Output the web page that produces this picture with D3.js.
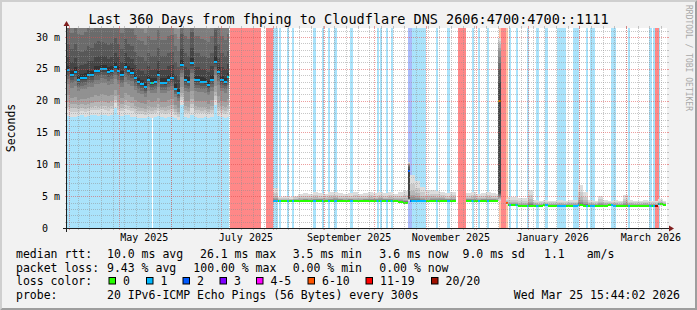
<!DOCTYPE html>
<html>
<head>
<meta charset="utf-8">
<script src="https://cdn.jsdelivr.net/npm/d3@7"></script>
<style>
html, body { margin: 0; padding: 0; background: #f2f2f2; }
svg { display: block; font-family: "DejaVu Sans Mono", monospace; }
</style>
</head>
<body>
<svg width="697" height="310"></svg>
<script>
// graph covers the last 360 days up to the probe time
var startTime = Date.UTC(2025, 2, 30, 15, 44, 2);
var endTime = Date.UTC(2026, 2, 25, 15, 44, 2);

var lossLabels = ["0", "1", "2", "3", "4-5", "6-10", "11-19", "20/20"];
var lossColors = ["#26ff00", "#00b8ff", "#0059ff", "#7e00ff", "#ff00ff", "#ff5500", "#ff0000", "#a01000"];
var lossBgColors = [null, "#aae3fb", "#abbbfb", "#d0abfb", "#fbabfb", "#ffc4a6", "#ffa0a0", "#ff8888"];

// [from day, to day, loss level]  (days since start of graph)
var lossBands = [
  [0, 50.7, 1], [51.3, 97.0, 1],
  [97.5, 116.4, 7], [119.1, 123.3, 7],
  [123.6, 126.6, 1], [127.2, 128.4, 1], [132.0, 133.2, 1], [135.0, 136.2, 1], [147.6, 149.4, 1],
  [153.0, 153.9, 1], [156.6, 157.8, 1], [160.2, 162.0, 1], [169.8, 171.6, 1], [185.7, 186.9, 1],
  [187.8, 188.8, 1], [191.4, 192.6, 1], [194.1, 195.3, 1],
  [204.6, 206.7, 2], [206.7, 215.4, 1], [221.4, 222.3, 1], [228.0, 229.8, 1],
  [234.6, 239.4, 7],
  [242.7, 243.9, 1], [246.6, 247.8, 1], [252.0, 253.2, 1],
  [258.9, 260.1, 5], [260.1, 263.4, 7], [263.4, 264.6, 5],
  [265.2, 266.4, 1], [269.1, 270.3, 1], [276.0, 276.9, 1], [281.4, 282.9, 1], [286.8, 288.6, 1],
  [294.0, 299.4, 1], [303.6, 307.2, 1], [311.4, 312.6, 1], [313.8, 316.8, 1], [326.4, 329.4, 1],
  [336.6, 337.8, 1], [349.2, 350.7, 1], [351.6, 352.8, 1],
  [352.8, 354.9, 7], [354.9, 355.8, 1]
];

// day each sample starts; a null median means no data until the next sample
var sampleDay = [
  0, 2, 4, 6, 8, 10, 12, 14, 16, 18, 20, 22, 24, 26, 28, 30, 32, 34, 36, 38, 40, 42, 44, 46, 48,
  50, 52, 54, 56, 58, 60, 62, 64, 66, 68, 70, 72, 74, 76, 78, 80, 82, 84, 86, 88, 90, 92, 94, 96,
  97.0,
  123.6, 126.6, 129.6, 132.6, 135.6, 138.6, 141.6, 144.6, 147.6, 150.6, 153.6, 156.6, 159.6, 162.6,
  165.6, 168.6, 171.6, 174.6, 177.6, 180.6, 183.6, 186.6, 189.6, 192.6, 195.6, 198.6, 201.6,
  204.6,
  205.8, 208.8, 211.8, 214.8, 217.8, 220.8, 223.8, 226.8, 229.8,
  233.4,
  239.4, 242.4, 245.4, 248.4, 251.4, 254.4, 257.4,
  258.6,
  260.1,
  263.4,
  264.6, 267.6, 270.6, 273.6, 276.6, 279.6, 282.6, 285.6, 288.6, 291.6, 294.6, 297.6, 300.6, 303.6,
  306.6, 309.6, 312.6, 315.6, 318.6, 321.6, 324.6, 327.6, 330.6, 333.6, 336.6, 339.6, 342.6, 345.6,
  348.6, 351.6, 354.6, 357.6,
  359.4
];

// median rtt (ms)
var medianMs = [
  24.8, 24.0, 24.5, 23.2, 23.5, 23.6, 24.0, 24.0, 24.7, 24.7, 24.9, 24.9, 24.5, 24.7, 25.3, 24.7, 24.0, 25.2, 24.7, 24.4, 23.5, 22.9, 22.6, 22.1, 23.3,
  22.8, 22.9, 24.0, 22.8, 22.8, 23.3, 23.5, 21.9, 21.2, 25.6, 23.2, 23.0, 25.9, 23.2, 23.2, 23.0, 22.9, 22.4, 23.3, 26.1, 24.5, 23.2, 22.9, 23.7,
  null,
  4.2, 4.3, 4.2, 4.3, 4.3, 4.3, 4.3, 4.3, 4.3, 4.3, 4.3, 4.3, 4.3, 4.3,
  4.3, 4.3, 4.2, 4.3, 4.3, 4.3, 4.3, 4.3, 4.3, 4.3, 4.3, 4.1, 4.0,
  8.9,
  4.2, 4.2, 4.2, 4.2, 4.3, 4.3, 4.3, 4.3, 4.3,
  null,
  4.3, 4.3, 4.3, 4.3, 4.3, 4.3, 4.3,
  20.0,
  null,
  3.9,
  3.6, 3.6, 3.5, 3.5, 3.5, 3.5, 3.5, 3.6, 3.5, 3.5, 3.5, 3.5, 3.5, 3.5,
  3.6, 3.5, 3.5, 3.5, 3.5, 3.5, 3.6, 3.5, 3.5, 3.5, 3.5, 3.5, 3.5, 3.5,
  3.5, 3.5, 3.7, 3.6,
  null
];

// fastest of the 20 pings (ms)
var pingMinMs = [
  17.6, 17.5, 17.4, 17.6, 17.7, 17.5, 17.6, 17.8, 17.7, 17.6, 17.8, 17.7, 17.6, 17.8, 18.8, 17.7, 17.6, 17.8, 17.7, 17.5, 17.4, 17.3, 17.3, 17.2, 17.4,
  17.3, 17.4, 17.6, 17.4, 17.3, 17.4, 17.5, 17.2, 17.0, 19.3, 17.4, 17.3, 17.8, 17.4, 17.3, 17.3, 17.4, 17.2, 17.4, 19.3, 17.6, 17.4, 17.3, 17.5,
  null,
  4.0, 4.1, 4.1, 4.1, 4.1, 4.1, 4.1, 4.1, 4.1, 4.1, 4.1, 4.1, 4.1, 4.1,
  4.1, 4.1, 4.1, 4.1, 4.1, 4.1, 4.1, 4.1, 4.1, 4.1, 4.1, 4.0, 3.9,
  4.3,
  4.1, 4.1, 4.1, 4.1, 4.15, 4.15, 4.15, 4.15, 4.15,
  null,
  4.15, 4.15, 4.15, 4.15, 4.15, 4.15, 4.15,
  4.3,
  null,
  3.6,
  3.5, 3.5, 3.4, 3.4, 3.4, 3.4, 3.4, 3.5, 3.4, 3.4, 3.4, 3.4, 3.4, 3.4,
  3.5, 3.4, 3.4, 3.4, 3.4, 3.4, 3.5, 3.4, 3.4, 3.4, 3.4, 3.4, 3.4, 3.4,
  3.4, 3.4, 3.5, 3.5,
  null
];

// slowest of the 20 pings (ms)
var pingMaxMs = [
  42, 41, 43, 42, 41, 42, 43, 42, 43, 44, 43, 42, 42, 43, 44, 42, 41, 44, 42, 42, 41, 40, 40, 39, 41,
  40, 40, 42, 40, 40, 41, 41, 39, 38, 46, 41, 40, 46, 41, 41, 40, 40, 40, 41, 47, 43, 41, 40, 41,
  null,
  6.3, 4.9, 5.0, 4.8, 5.1, 5.3, 5.5, 5.4, 5.6, 5.5, 5.4, 5.6, 5.7, 5.5,
  5.4, 5.5, 5.6, 5.4, 5.5, 5.6, 5.5, 5.7, 5.5, 5.6, 5.4, 5.6, 5.8,
  10.3,
  8.3, 7.4, 6.4, 5.8, 6.0, 5.8, 5.7, 5.5, 5.6,
  null,
  5.5, 5.6, 5.4, 5.5, 5.6, 5.5, 5.3,
  29.8,
  null,
  4.6,
  4.8, 4.8, 4.7, 4.7, 6.0, 4.4, 4.3, 4.4, 4.3, 4.3, 4.4, 4.3, 4.4, 4.4,
  6.8, 5.6, 4.4, 4.3, 5.0, 4.4, 4.3, 4.4, 4.3, 5.2, 4.4, 4.3, 4.3, 4.4,
  4.3, 4.3, 4.6, 4.3,
  null
];

// where the 20 sorted pings sit: fraction of min->median (pings 1-10) and median->max (pings 11-20)
var spreadWideLow = [0, 0.12, 0.2, 0.3, 0.45, 0.7, 0.8, 0.88, 0.95, 1];
var spreadWideHigh = [0.04, 0.12, 0.24, 0.39, 0.5, 0.6, 0.7, 0.8, 0.9, 1];
var spreadTightLow = [0, 0.3, 0.5, 0.65, 0.75, 0.85, 0.9, 0.95, 1, 1];
var spreadTightHigh = [0, 0.02, 0.04, 0.06, 0.1, 0.15, 0.25, 0.4, 0.65, 1];
var spreadSpikeLow = [0, 0.01, 0.02, 0.03, 0.04, 0.05, 0.06, 0.07, 0.08, 1];
var spreadSpikeHigh = [0, 0.3, 0.5, 0.6, 0.7, 0.8, 0.85, 0.9, 0.95, 1];

var yTicks = [0, 5, 10, 15, 20, 25, 30];

var rttStats = [10.0, 26.1, 3.5, 3.6];
var lossStats = [9.43, 100.00, 0.00, 0.00];
var statNames = ["avg", "max", "min", "now"];
var rttSd = 9.0;
var rttAmS = 1.1;
var probeText = "20 IPv6-ICMP Echo Pings (56 Bytes) every 300s";
var titleText = "Last 360 Days from fhping to Cloudflare DNS 2606:4700:4700::1111";


var svg = d3.select("svg");
var W = 697, H = 310;
// plot box (note: "top" is taken by window.top)
var pLeft = 67, pRight = 667, pTop = 28, pBottom = 228;

var x = d3.scaleUtc()
  .domain([new Date(startTime), new Date(endTime)])
  .range([pLeft, pRight]);
var y = d3.scaleLinear()
  .domain([0, 31.4])
  .range([pBottom, pTop]);

function dayToDate(d) { return new Date(startTime + d * 864e5); }
function dx(d) { return x(dayToDate(d)); }

// background + 3d frame
svg.append("rect").attr("width", W).attr("height", H).attr("fill", "#f2f2f2");
svg.append("path").attr("d", "M0,0H697L695,2H2V308L0,310Z").attr("fill", "#cfcfcf");
svg.append("path").attr("d", "M0,310H697V0L695,2V308H2Z").attr("fill", "#9e9e9e");

var defs = svg.append("defs");
defs.append("clipPath").attr("id", "plotClip")
  .append("rect").attr("x", pLeft).attr("y", pTop).attr("width", pRight - pLeft).attr("height", pBottom - pTop);

svg.append("rect")
  .attr("x", pLeft).attr("y", pTop).attr("width", pRight - pLeft).attr("height", pBottom - pTop)
  .attr("fill", "#ffffff");

var plot = svg.append("g").attr("clip-path", "url(#plotClip)");

// LOSS BACKGROUND
plot.selectAll("rect.band")
  .data(lossBands)
  .enter().append("rect")
  .attr("class", "band")
  .attr("x", function(d) { return dx(d[0]); })
  .attr("width", function(d) { return dx(d[1]) - dx(d[0]); })
  .attr("y", pTop)
  .attr("height", pBottom - pTop)
  .attr("fill", function(d) { return lossBgColors[d[2]]; })
  .attr("shape-rendering", "crispEdges");

// SMOKE
function pingsFor(i) {
  var lo = pingMinMs[i], med = medianMs[i], hi = pingMaxMs[i];
  var low = spreadTightLow, high = spreadTightHigh;
  if (med - lo > 3 && lo < 10) { low = spreadSpikeLow; high = spreadSpikeHigh; }
  else if (med - lo > 1) { low = spreadWideLow; high = spreadWideHigh; }
  return low.map(function(f) { return lo + (med - lo) * f; })
    .concat(high.map(function(f) { return med + (hi - med) * f; }));
}

var smokePts = [];
var medPts = [];
sampleDay.forEach(function(d, i) {
  if (medianMs[i] == null) { smokePts.push(null); return; }
  var x0 = dx(d), x1 = dx(sampleDay[i + 1]);
  var p = pingsFor(i);
  smokePts.push({x: x0, p: p}, {x: x1, p: p});
  medPts.push({x: x0, v: medianMs[i]}, {x: x1, v: medianMs[i]}, null);
});

for (var k = 0; k < 10; k++) {
  var grey = Math.floor(190 / 10 * (9 - k)) + 50;
  var area = d3.area()
    .defined(function(d) { return d; })
    .x(function(d) { return d.x; })
    .y0(function(d) { return y(d.p[k]); })
    .y1(function(d) { return y(d.p[19 - k]); });
  plot.append("path")
    .attr("d", area(smokePts))
    .attr("fill", d3.rgb(grey, grey, grey))
    .attr("shape-rendering", "crispEdges");
}

// MEDIAN coloured by loss
var medLine = d3.line()
  .defined(function(d) { return d; })
  .x(function(d) { return d.x; })
  .y(function(d) { return Math.round(y(d.v)); });

plot.append("path")
  .attr("d", medLine(medPts))
  .attr("fill", "none")
  .attr("stroke", lossColors[0])
  .attr("stroke-width", 2)
  .attr("shape-rendering", "crispEdges");

lossBands.forEach(function(b, i) {
  if (b[2] == 0) return;
  defs.append("clipPath").attr("id", "bandClip" + i)
    .append("rect")
    .attr("x", dx(b[0])).attr("width", dx(b[1]) - dx(b[0]))
    .attr("y", pTop).attr("height", pBottom - pTop);
  plot.append("path")
    .attr("d", medLine(medPts))
    .attr("clip-path", "url(#bandClip" + i + ")")
    .attr("fill", "none")
    .attr("stroke", lossColors[b[2]])
    .attr("stroke-width", 2)
    .attr("shape-rendering", "crispEdges");
});

// GRID (on top, dotted)
var grid = svg.append("g").attr("shape-rendering", "crispEdges");
var minorCol = "rgba(143,143,143,0.5)";
var majorCol = "rgba(222,79,79,0.55)";

var yMinor = d3.range(1, 32).filter(function(v) { return v % 5 != 0; });
var yMajor = yTicks.filter(function(v) { return v > 0; });
var xMinor = d3.utcSunday.range(new Date(startTime), new Date(endTime));
var xMajor = d3.utcMonth.range(new Date(startTime), new Date(endTime));

function hGrid(vals, col) {
  vals.forEach(function(v) {
    var yy = Math.round(y(v)) + 0.5;
    grid.append("line").attr("x1", pLeft).attr("x2", pRight).attr("y1", yy).attr("y2", yy)
      .attr("stroke", col).attr("stroke-dasharray", "1,1");
    grid.append("line").attr("x1", pLeft - 2).attr("x2", pLeft).attr("y1", yy).attr("y2", yy).attr("stroke", col);
    grid.append("line").attr("x1", pRight).attr("x2", pRight + 2).attr("y1", yy).attr("y2", yy).attr("stroke", col);
  });
}
function vGrid(vals, col) {
  vals.forEach(function(t) {
    var xx = Math.round(x(t)) + 0.5;
    grid.append("line").attr("x1", xx).attr("x2", xx).attr("y1", pTop).attr("y2", pBottom)
      .attr("stroke", col).attr("stroke-dasharray", "1,1");
    grid.append("line").attr("x1", xx).attr("x2", xx).attr("y1", pBottom).attr("y2", pBottom + 2).attr("stroke", col);
    grid.append("line").attr("x1", xx).attr("x2", xx).attr("y1", pTop - 2).attr("y2", pTop).attr("stroke", col);
  });
}
hGrid(yMinor, minorCol);
vGrid(xMinor, minorCol);
hGrid(yMajor, majorCol);
vGrid(xMajor, majorCol);

// AXES + arrows
svg.append("line").attr("x1", pLeft - 4).attr("x2", pRight + 4).attr("y1", pBottom + 0.5).attr("y2", pBottom + 0.5)
  .attr("stroke", "#1f1f1f");
svg.append("line").attr("x1", pLeft - 0.5).attr("x2", pLeft - 0.5).attr("y1", pBottom + 4).attr("y2", pTop - 4)
  .attr("stroke", "#1f1f1f");
svg.append("path").attr("d", "M" + (pRight + 2) + "," + (pBottom - 2.5) + "V" + (pBottom + 3.5) + "L" + (pRight + 7) + "," + (pBottom + 0.5) + "Z")
  .attr("fill", "#801f1f");
svg.append("path").attr("d", "M" + (pLeft - 3.5) + "," + (pTop - 2) + "H" + (pLeft + 2.5) + "L" + (pLeft - 0.5) + "," + (pTop - 7) + "Z")
  .attr("fill", "#801f1f");

// y labels
svg.selectAll("text.ylab")
  .data(yTicks)
  .enter().append("text")
  .attr("class", "ylab")
  .attr("x", 60)
  .attr("y", function(d) { return y(d) + 3.6; })
  .attr("text-anchor", "end")
  .style("white-space", "pre")
  .attr("font-size", 10)
  .text(function(d) { return d == 0 ? "0  " : d + " m"; });

// x labels: every other month, centred half a month after its start
var labelMonths = xMajor.filter(function(t) { return t.getUTCMonth() % 2 == 0; });
var monthFmt = d3.utcFormat("%B %Y");
svg.selectAll("text.xlab")
  .data(labelMonths)
  .enter().append("text")
  .attr("class", "xlab")
  .attr("x", function(d) { return x(d3.utcDay.offset(d, 15)); })
  .attr("y", 241)
  .attr("text-anchor", "middle")
  .attr("font-size", 10)
  .text(function(d) { return monthFmt(d); });

// title
svg.append("text")
  .attr("x", 348.5).attr("y", 24)
  .attr("text-anchor", "middle")
  .attr("font-size", 13.5)
  .text(titleText);

svg.append("text")
  .attr("transform", "translate(14.5,128) rotate(-90)")
  .attr("text-anchor", "middle")
  .attr("font-size", 11.5)
  .text("Seconds");

svg.append("text")
  .attr("transform", "translate(685.5,5) rotate(90)")
  .attr("font-size", 8)
  .attr("fill", "#a8a8a8")
  .text("RRDTOOL / TOBI OETIKER");

// LEGEND
var leg = svg.append("g").attr("font-size", 11.5).style("white-space", "pre");
var rowY = [258, 271.5, 285, 298.5];
function legText(tx, ty, s, anchor) {
  leg.append("text").attr("x", tx).attr("y", ty).attr("text-anchor", anchor || "start").text(s);
}
legText(16, rowY[0], "median rtt:");
legText(16, rowY[1], "packet loss:");
legText(16, rowY[2], "loss color:");
legText(16, rowY[3], "probe:");

var rttX = [107, 200, 292.7, 379.3];
var lossX = [107, 193.3, 292.7, 379.3];
rttStats.forEach(function(v, i) {
  legText(rttX[i], rowY[0], d3.format(".1f")(v) + " ms " + statNames[i]);
});
legText(462.5, rowY[0], d3.format(".1f")(rttSd) + " ms sd");
legText(544, rowY[0], d3.format(".1f")(rttAmS));
legText(586.7, rowY[0], "am/s");
lossStats.forEach(function(v, i) {
  legText(lossX[i], rowY[1], d3.format(".2f")(v) + " % " + statNames[i]);
});

var boxX = [108.5, 146, 182.5, 219.5, 256, 307.5, 365.5, 431];
lossLabels.forEach(function(lab, i) {
  leg.append("rect")
    .attr("x", boxX[i] + 0.5).attr("y", 277.5)
    .attr("width", 6.5).attr("height", 6.5)
    .attr("fill", lossColors[i])
    .attr("stroke", "#000").attr("stroke-width", 1);
  legText(boxX[i] + 14.5, rowY[2], lab);
});

legText(107, rowY[3], probeText);
legText(680, rowY[3], "Wed Mar 25 15:44:02 2026", "end");
</script>
</body>
</html>
